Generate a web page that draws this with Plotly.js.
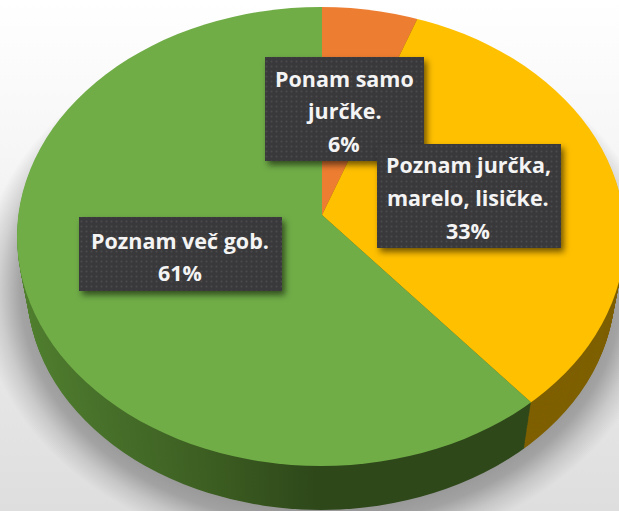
<!DOCTYPE html>
<html>
<head>
<meta charset="utf-8">
<script src="https://cdn.plot.ly/plotly-3.0.1.min.js"></script>
<style>html,body{margin:0;padding:0;background:#fff}#c{width:619px;height:511px}</style>
</head>
<body>
<div id="c"></div>
<script>
// Data
const categories = ['Ponam samo jurčke.', 'Poznam jurčka, marelo, lisičke.', 'Poznam več gob.'];
const values = [5.7, 33, 61.3];
const topColors = ['#ed7d31', '#ffc000', '#70ad47'];
const rimColors = ['#7f4218', '#7f6000', '#2f4a1c'];
const labelLines = [['Ponam samo', 'jurčke.'], ['Poznam jurčka,', 'marelo, lisičke.'], ['Poznam več gob.']];

// Presentation
const W = 619, H = 511;
const labelBoxes = [[265, 57, 424, 161], [377, 144, 561, 248], [79, 217, 282, 291]];
const labelCentreX = [344, 468, 180];
const labelFirstY = [78, 165, 240];
const LINE = 32.7;
const apex = {x: 322, y: 215};
const ell = {cx: 321, cy: 236.5, rx: 304, ry: 229.5};
const shadow = {cx: 321, cy: 288, rx: 342, ry: 268};
const SY = 1.1, SX = 1.1 / 0.77;
const LAYERS = 50, END_SCALE = 0.967;

const traces = [];
for (let k = LAYERS; k >= 0; k--) {
  traces.push({
    type: 'pie', labels: categories, values: values, sort: false, direction: 'clockwise', rotation: 0,
    textinfo: 'none', hoverinfo: 'skip', showlegend: false,
    marker: {colors: k === 0 ? topColors : rimColors, line: {width: 0}}
  });
}

const shapes = [
  {type: 'rect', xref: 'paper', yref: 'paper', layer: 'below', x0: 0, x1: 1, y0: 0, y1: 1,
   fillcolor: '#eeeeee', line: {width: 0}},
  {type: 'circle', xref: 'paper', yref: 'paper', layer: 'below',
   x0: (shadow.cx - shadow.rx) / W, x1: (shadow.cx + shadow.rx) / W,
   y0: 1 - (shadow.cy + shadow.ry) / H, y1: 1 - (shadow.cy - shadow.ry) / H,
   fillcolor: '#999999', line: {width: 0}}
].concat(labelBoxes.map(b => ({
  type: 'rect', xref: 'paper', yref: 'paper', layer: 'above',
  x0: b[0] / W, x1: b[2] / W, y0: 1 - b[3] / H, y1: 1 - b[1] / H,
  fillcolor: '#3a3a3c', line: {width: 0}
})));

const annotations = [];
labelLines.forEach((lines, i) => {
  const all = lines.concat([Math.round(values[i]) + '%']);
  all.forEach((t, j) => annotations.push({
    text: t, xref: 'paper', yref: 'paper', showarrow: false, xanchor: 'center', yanchor: 'middle',
    x: labelCentreX[i] / W, y: 1 - (labelFirstY[i] + j * LINE) / H,
    font: {family: '"Open Sans", "Noto Sans", sans-serif', size: 21.5, color: '#f4f4f4', weight: 700}
  }));
});

const gd = document.getElementById('c');
Plotly.newPlot(gd, traces, {
  width: W, height: H, margin: {l: 0, r: 0, t: 0, b: 0},
  paper_bgcolor: '#ffffff', shapes: shapes, annotations: annotations, showlegend: false
}, {staticPlot: true, displayModeBar: false}).then(() => {
  const NS = 'http://www.w3.org/2000/svg';
  const el = (n, a, parent) => {
    const e = document.createElementNS(NS, n);
    Object.keys(a).forEach(k => e.setAttribute(k, a[k]));
    if (parent) parent.appendChild(e);
    return e;
  };
  const layer = gd.querySelector('.pielayer');
  const svg = layer.ownerSVGElement;
  const defs = el('defs', {});
  svg.insertBefore(defs, svg.firstChild);

  const bgGrad = el('linearGradient', {id: 'bgGrad', x1: 0, y1: 0, x2: 0, y2: 1}, defs);
  [['0', '#ffffff'], ['0.3', '#f6f6f6'], ['0.6', '#ebebeb'], ['1', '#dedede']].forEach(s =>
    el('stop', {offset: s[0], 'stop-color': s[1]}, bgGrad));

  const shGrad = el('radialGradient', {id: 'shGrad', cx: 0.5, cy: 0.5, r: 0.5}, defs);
  [['0', 1], ['0.82', 1], ['0.88', 0.85], ['0.94', 0.35], ['1', 0]].forEach(s =>
    el('stop', {offset: s[0], 'stop-color': '#979797', 'stop-opacity': s[1]}, shGrad));

  const clip = el('clipPath', {id: 'ellClip'}, defs);
  el('ellipse', {cx: ell.cx, cy: ell.cy, rx: ell.rx, ry: ell.ry}, clip);

  const cd = gd.calcdata[0][0];
  const rimGrad = el('linearGradient', {
    id: 'rimGreen', gradientUnits: 'userSpaceOnUse',
    x1: (17 - apex.x) / SX + cd.cx, y1: 0, x2: (315 - apex.x) / SX + cd.cx, y2: 0
  }, defs);
  [['0', '#507f2e'], ['0.28', '#47702a'], ['0.62', '#3d5f22'], ['1', '#2e481a']].forEach(s =>
    el('stop', {offset: s[0], 'stop-color': s[1]}, rimGrad));

  const pat = el('pattern', {id: 'dots', width: 5, height: 5, patternUnits: 'userSpaceOnUse'}, defs);
  el('rect', {width: 5, height: 5, fill: '#39393b'}, pat);
  el('circle', {cx: 1.5, cy: 1.5, r: 1, fill: '#4b4b4e'}, pat);

  const trs = Array.from(layer.querySelectorAll('.trace'));
  trs.forEach((tr, i) => {
    const k = LAYERS - i;
    const t = k / LAYERS;
    const s = 1 - (1 - END_SCALE) * t;
    const dy = 51.5 * t;
    const wrap = el('g', {
      'clip-path': 'url(#ellClip)',
      transform: `translate(${ell.cx} ${ell.cy + dy}) scale(${s}) translate(${-ell.cx} ${-ell.cy})`
    });
    layer.insertBefore(wrap, tr);
    wrap.appendChild(tr);
    tr.setAttribute('transform', `translate(${apex.x} ${apex.y}) scale(${SX} ${SY}) translate(${-cd.cx} ${-cd.cy})`);
    if (k > 0) {
      const sl = tr.querySelectorAll('.slice path');
      if (sl[2]) sl[2].style.fill = 'url(#rimGreen)';
    }
  });

  // Backdrop and cast shadow are the two shapes in the lower shape layer
  const below = gd.querySelectorAll('.layer-below .shapelayer path');
  if (below[0]) below[0].style.fill = 'url(#bgGrad)';
  if (below[1]) below[1].style.fill = 'url(#shGrad)';

  gd.querySelectorAll('.layer-above .shapelayer path').forEach(p => {
    p.style.fill = 'url(#dots)';
    p.style.filter = 'drop-shadow(3px 4px 3px rgba(0,0,0,0.55))';
  });
});
</script>
</body>
</html>
